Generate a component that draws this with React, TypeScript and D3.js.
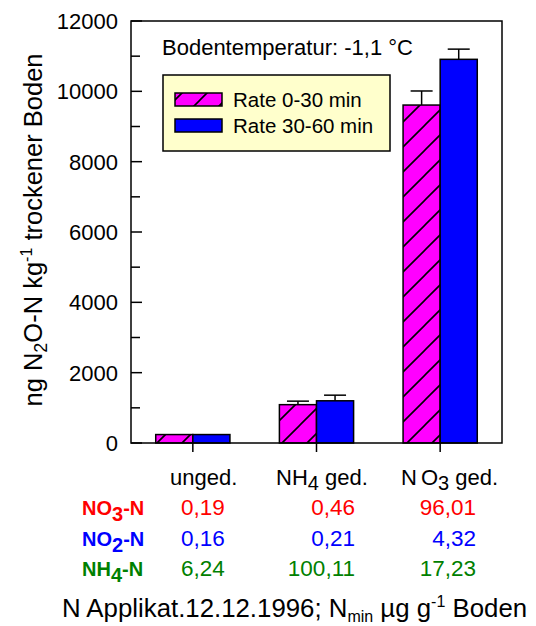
import React from "react";
import * as d3 from "d3";

const categories = ["unged.", "NH4 ged.", "NO3 ged."];
const seriesNames = ["Rate 0-30 min", "Rate 30-60 min"];
const rate0to30 = [240, 1090, 9610];
const rate30to60 = [240, 1200, 10910];
const err0to30 = [0, 100, 400];
const err30to60 = [0, 160, 290];
const yTicks = [0, 2000, 4000, 6000, 8000, 10000, 12000];
const yMinorTicks = [1000, 3000, 5000, 7000, 9000, 11000];
const rowNames = ["NO3", "NO2", "NH4"];
const no3Values = ["0,19", "0,46", "96,01"];
const no2Values = ["0,16", "0,21", "4,32"];
const nh4Values = ["6,24", "100,11", "17,23"];

const W = 536, H = 626;
const L = 131, R = 502, T = 21, B = 443;
const FONT = "'Liberation Sans', Arial, sans-serif";
const seriesColors = ["#ff00ff", "#0000ff"];
const rowColors = ["#ff0000", "#0000ff", "#008000"];

export default function App() {
  const y = d3.scaleLinear().domain([0, 12000]).range([B, T]);
  const x0 = d3.scaleBand<string>().domain(categories).range([L, R]).paddingInner(0);
  const groupW = x0.bandwidth() * 0.6;
  const x1 = d3.scaleBand<number>().domain([0, 1]).range([0, groupW]);
  const series = [rate0to30, rate30to60];
  const errs = [err0to30, err30to60];
  const fill = (s: number) => (s === 0 ? "url(#hatch)" : seriesColors[1]);

  const catLabelX = [170, 276, 401];
  const rowBase = [515, 546, 576];
  const rowVals = [no3Values, no2Values, nh4Values];
  const valAnchor: any[] = ["start", "end", "end"];
  const valX = [181, 355, 476];

  return (
    <svg width={W} height={H} style={{ position: "absolute", left: 0, top: 0 }} fontFamily={FONT}>
      <defs>
        <pattern id="hatch" patternUnits="userSpaceOnUse" width={25} height={25}>
          <rect width={25} height={25} fill="#ff00ff" />
          <path d="M-5,5 L5,-5 M0,25 L25,0 M20,30 L30,20" stroke="#000" strokeWidth={1.6} />
        </pattern>
      </defs>
      <rect width={W} height={H} fill="#fff" />

      {/* bars */}
      {categories.map((c, i) => {
        const gx = (x0(c) as number) + (x0.bandwidth() - groupW) / 2;
        return (
          <g key={c}>
            {series.map((vals, s) => {
              const bx = gx + (x1(s) as number);
              const bw = x1.bandwidth();
              const cx = bx + bw / 2;
              const e = errs[s][i];
              return (
                <g key={s}>
                  {e > 0 && (
                    <g stroke="#000" strokeWidth={1.5}>
                      <line x1={cx} x2={cx} y1={y(vals[i])} y2={y(vals[i] + e)} />
                      <line x1={cx - 11} x2={cx + 11} y1={y(vals[i] + e)} y2={y(vals[i] + e)} />
                    </g>
                  )}
                  <rect x={bx} y={y(vals[i])} width={bw} height={B - y(vals[i])} fill={fill(s)} stroke="#000" strokeWidth={1.5} />
                </g>
              );
            })}
          </g>
        );
      })}

      {/* frame */}
      <rect x={L} y={T} width={R - L} height={B - T} fill="none" stroke="#000" strokeWidth={1.5} />

      {/* y ticks */}
      {yTicks.map((t) => (
        <g key={t}>
          <line x1={L} x2={L + 11} y1={y(t)} y2={y(t)} stroke="#000" strokeWidth={1.5} />
          <text x={118} y={y(t)} dy="0.36em" textAnchor="end" fontSize={22}>{t}</text>
        </g>
      ))}
      {yMinorTicks.map((t) => (
        <line key={t} x1={L} x2={L + 9} y1={y(t)} y2={y(t)} stroke="#000" strokeWidth={1.5} />
      ))}
      {/* x ticks */}
      {categories.map((c) => {
        const cx = (x0(c) as number) + x0.bandwidth() / 2;
        return <line key={c} x1={cx} x2={cx} y1={B} y2={B + 9} stroke="#000" strokeWidth={1.5} />;
      })}

      {/* y label */}
      <text transform="translate(42,230) rotate(-90)" textAnchor="middle" fontSize={25.5}>
        ng N<tspan fontSize={18} dy={5}>2</tspan>
        <tspan dy={-5}>O-N kg</tspan>
        <tspan fontSize={16} dy={-10}>-1</tspan>
        <tspan dy={10}> trockener Boden</tspan>
      </text>

      {/* title */}
      <text x={162} y={55} fontSize={22}>Bodentemperatur: -1,1 °C</text>

      {/* legend */}
      <rect x={163} y={75} width={227} height={76} fill="#ffffcc" stroke="#000" strokeWidth={1.5} />
      {seriesNames.map((n, s) => (
        <g key={n}>
          <rect x={175} y={93 + s * 26} width={47} height={13} fill={fill(s)} stroke="#000" strokeWidth={1.5} />
          <text x={233} y={100 + s * 26} dy="0.36em" fontSize={20.5}>{n}</text>
        </g>
      ))}

      {/* category labels */}
      <text x={catLabelX[0]} y={485} fontSize={22}>unged.</text>
      <text x={catLabelX[1]} y={485} fontSize={22}>
        NH<tspan fontSize={20} dy={5}>4</tspan>
        <tspan dy={-5}> ged.</tspan>
      </text>
      <text x={catLabelX[2]} y={485} fontSize={22}>
        N<tspan dx={4}>O</tspan>
        <tspan fontSize={20} dy={5}>3</tspan>
        <tspan dy={-5}> ged.</tspan>
      </text>

      {/* rows */}
      {rowNames.map((r, ri) => (
        <g key={r} fill={rowColors[ri]}>
          <text x={82} y={rowBase[ri]} fontSize={20} fontWeight="bold">
            {r.slice(0, 2)}
            <tspan dy={6}>{r.slice(2)}</tspan>
            <tspan dy={-6}>-N</tspan>
          </text>
          {rowVals[ri].map((v, ci) => (
            <text key={ci} x={valX[ci]} y={rowBase[ri]} textAnchor={valAnchor[ci]} fontSize={22.5}>{v}</text>
          ))}
        </g>
      ))}

      {/* bottom title */}
      <text x={62} y={617} fontSize={25.8}>
        N Applikat.12.12.1996; N<tspan fontSize={16} dy={5}>min</tspan>
        <tspan dy={-5}> µg g</tspan>
        <tspan fontSize={16} dy={-10}>-1</tspan>
        <tspan dy={10}> Boden</tspan>
      </text>
    </svg>
  );
}
